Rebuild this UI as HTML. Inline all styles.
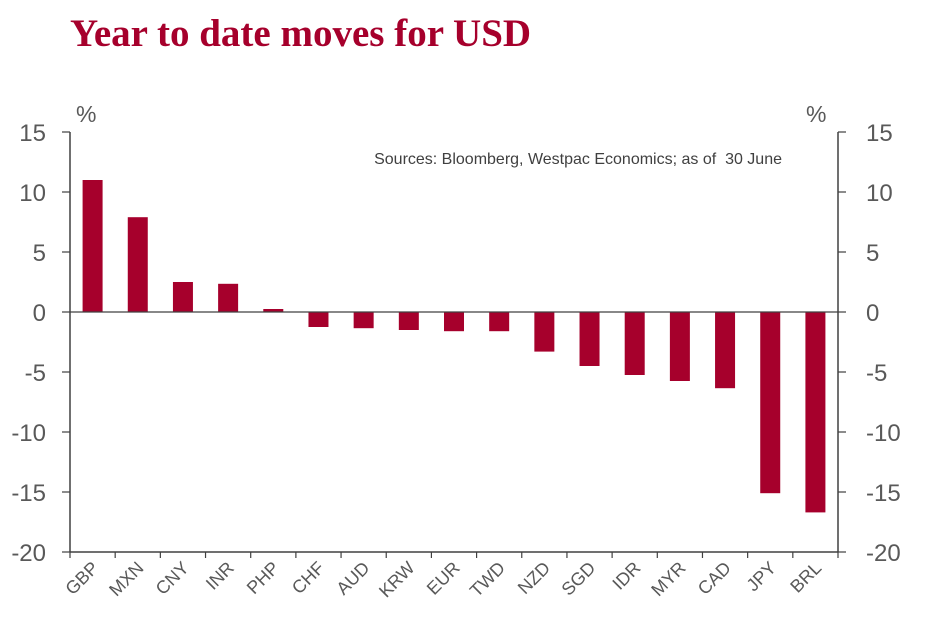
<!DOCTYPE html>
<html><head><meta charset="utf-8"><style>
body{margin:0;background:#fff;width:925px;height:622px;overflow:hidden}
svg{display:block}
</style></head><body>
<svg id="c" width="925" height="622" xmlns="http://www.w3.org/2000/svg">
<text x="70" y="46" font-family="Liberation Serif, serif" font-weight="bold" font-size="39" fill="#a6002c">Year to date moves for USD</text>
<text x="76" y="122" font-family="Liberation Sans, sans-serif" font-size="23" fill="#595959">%</text>
<text x="806" y="122" font-family="Liberation Sans, sans-serif" font-size="23" fill="#595959">%</text>
<text x="782" y="164" text-anchor="end" font-family="Liberation Sans, sans-serif" font-size="16" fill="#404040">Sources: Bloomberg, Westpac Economics; as of &#160;30 June</text>
<g id="g"></g>
</svg>
<script>
const categories=["GBP","MXN","CNY","INR","PHP","CHF","AUD","KRW","EUR","TWD","NZD","SGD","IDR","MYR","CAD","JPY","BRL"];
const values=[11.0,7.9,2.5,2.35,0.25,-1.25,-1.35,-1.5,-1.6,-1.6,-3.3,-4.5,-5.25,-5.75,-6.35,-15.1,-16.7];
const ticks=[15,10,5,0,-5,-10,-15,-20];
const L=70,R=838,T=132,B=552,ymax=15,ymin=-20;
const y=v=>T+(ymax-v)/(ymax-ymin)*(B-T);
const step=(R-L)/categories.length;
const x=i=>L+step*i;
const g=document.getElementById('g');
const NS="http://www.w3.org/2000/svg";
function mk(t,a){const e=document.createElementNS(NS,t);for(const k in a)e.setAttribute(k,a[k]);g.appendChild(e);return e;}
values.forEach((v,i)=>{
 const r=mk('rect',{x:x(i)+step/2-10,y:Math.min(y(v),y(0)),width:20,height:Math.abs(y(v)-y(0)),fill:'#a6002c'});
 
 
});
let e;
e=mk('line',{x1:L,y1:y(0),x2:R,y2:y(0),stroke:'#404040','stroke-width':1.2});


e=mk('line',{x1:L,y1:T,x2:L,y2:B,stroke:'#404040','stroke-width':1.5});


e=mk('line',{x1:R,y1:T,x2:R,y2:B,stroke:'#404040','stroke-width':1.5});


e=mk('line',{x1:L,y1:B,x2:R,y2:B,stroke:'#404040','stroke-width':1.5});


ticks.forEach(t=>{
 mk('line',{x1:L-8,y1:y(t),x2:L,y2:y(t),stroke:'#404040','stroke-width':1.2});
 mk('line',{x1:R,y1:y(t),x2:R+8,y2:y(t),stroke:'#404040','stroke-width':1.2});
 e=mk('text',{x:46,y:y(t)+9,'text-anchor':'end','font-family':'Liberation Sans, sans-serif','font-size':24,fill:'#595959'});
 e.textContent=t;
 
 
 e=mk('text',{x:866,y:y(t)+9,'text-anchor':'start','font-family':'Liberation Sans, sans-serif','font-size':24,fill:'#595959'});
 e.textContent=t;
 
 
});
for(let i=0;i<=categories.length;i++)mk('line',{x1:x(i),y1:B,x2:x(i),y2:B+6,stroke:'#404040','stroke-width':1.2});
categories.forEach((c,i)=>{
 const cx=x(i)+step/2+7,cy=B+17;
 e=mk('text',{x:cx,y:cy,'text-anchor':'end','font-family':'Liberation Sans, sans-serif','font-size':18,fill:'#595959',transform:`rotate(-45 ${cx} ${cy})`});
 e.textContent=c;
 
 
});
</script>
</body></html>
